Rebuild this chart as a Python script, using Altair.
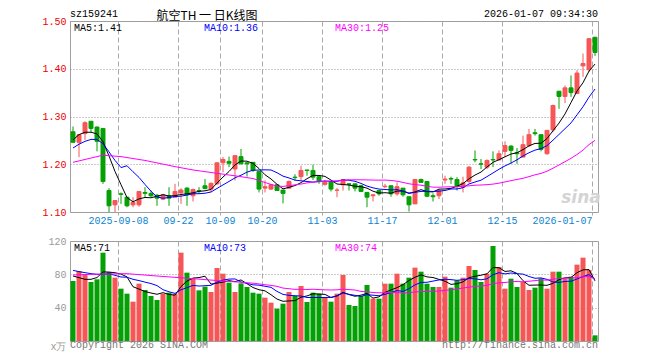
import altair as alt
import pandas as pd

# ---------------- data ----------------
date_idx = [8, 18, 25, 32, 42, 52, 62, 72, 87]
date_labels = ["2025-09-08", "09-22", "10-09", "10-20", "11-03", "11-17", "12-01", "12-15", "2026-01-07"]

opens = [1.268, 1.246, 1.264, 1.290, 1.278, 1.275, 1.145, 1.115, 1.138, 1.131,
         1.115, 1.115, 1.141, 1.139, 1.135, 1.127, 1.134, 1.131, 1.140, 1.150,
         1.134, 1.145, 1.155, 1.148, 1.159, 1.203, 1.206, 1.190, 1.216, 1.203,
         1.204, 1.185, 1.150, 1.148, 1.157, 1.146, 1.150, 1.173, 1.174, 1.188,
         1.187, 1.174, 1.158, 1.164, 1.1455, 1.157, 1.159, 1.159, 1.155, 1.141,
         1.134, 1.145, 1.153, 1.155, 1.138, 1.150, 1.132, 1.117, 1.168, 1.164,
         1.134, 1.134, 1.167, 1.170, 1.168, 1.152, 1.164, 1.210, 1.201, 1.194,
         1.210, 1.209, 1.227, 1.238, 1.224, 1.215, 1.239, 1.266, 1.262, 1.222,
         1.272, 1.353, 1.342, 1.360, 1.348, 1.406, 1.398, 1.466]
highs = [1.279, 1.263, 1.290, 1.290, 1.279, 1.275, 1.150, 1.124, 1.141, 1.132,
         1.131, 1.143, 1.152, 1.145, 1.138, 1.138, 1.152, 1.159, 1.150, 1.152,
         1.149, 1.152, 1.169, 1.162, 1.204, 1.215, 1.216, 1.218, 1.232, 1.204,
         1.204, 1.185, 1.166, 1.159, 1.157, 1.146, 1.166, 1.179, 1.197, 1.188,
         1.199, 1.174, 1.166, 1.164, 1.150, 1.168, 1.160, 1.159, 1.157, 1.141,
         1.138, 1.145, 1.159, 1.155, 1.162, 1.150, 1.132, 1.169, 1.170, 1.164,
         1.139, 1.148, 1.176, 1.174, 1.173, 1.174, 1.196, 1.229, 1.211, 1.210,
         1.227, 1.229, 1.248, 1.240, 1.234, 1.260, 1.274, 1.274, 1.262, 1.271,
         1.325, 1.353, 1.365, 1.386, 1.397, 1.432, 1.463, 1.466]
lows = [1.245, 1.215, 1.251, 1.267, 1.227, 1.159, 1.100, 1.100, 1.117, 1.110,
        1.110, 1.111, 1.131, 1.131, 1.113, 1.125, 1.113, 1.131, 1.117, 1.113,
        1.122, 1.138, 1.148, 1.141, 1.157, 1.183, 1.194, 1.166, 1.200, 1.174,
        1.184, 1.141, 1.141, 1.146, 1.144, 1.118, 1.149, 1.166, 1.166, 1.176,
        1.167, 1.159, 1.155, 1.143, 1.131, 1.145, 1.145, 1.143, 1.143, 1.110,
        1.122, 1.134, 1.150, 1.132, 1.134, 1.132, 1.101, 1.117, 1.162, 1.131,
        1.122, 1.127, 1.159, 1.159, 1.145, 1.141, 1.160, 1.204, 1.190, 1.190,
        1.194, 1.208, 1.215, 1.201, 1.201, 1.215, 1.236, 1.260, 1.227, 1.220,
        1.267, 1.316, 1.328, 1.341, 1.348, 1.383, 1.393, 1.427]
closes = [1.246, 1.262, 1.287, 1.275, 1.248, 1.164, 1.113, 1.124, 1.137, 1.113,
          1.120, 1.143, 1.139, 1.134, 1.129, 1.136, 1.129, 1.143, 1.146, 1.136,
          1.147, 1.144, 1.149, 1.160, 1.203, 1.210, 1.202, 1.218, 1.201, 1.201,
          1.187, 1.148, 1.153, 1.157, 1.145, 1.139, 1.164, 1.172, 1.187, 1.187,
          1.173, 1.164, 1.162, 1.148, 1.146, 1.168, 1.158, 1.150, 1.143, 1.131,
          1.136, 1.138, 1.154, 1.138, 1.153, 1.136, 1.115, 1.168, 1.162, 1.133,
          1.132, 1.145, 1.169, 1.169, 1.154, 1.161, 1.194, 1.209, 1.200, 1.208,
          1.209, 1.222, 1.239, 1.229, 1.222, 1.241, 1.262, 1.264, 1.231, 1.271,
          1.323, 1.342, 1.360, 1.350, 1.391, 1.411, 1.463, 1.434]
volumes = [72, 84, 80, 70.8, 74, 106, 82.8, 76, 62.8, 56.8,
           47.2, 68.8, 61.2, 54, 49.2, 56.8, 58, 56.8, 106, 82,
           74.8, 60.8, 65.2, 58.8, 87.6, 80.8, 70, 58.8, 69.2, 64.8,
           58, 56.8, 52, 46, 38.8, 44.8, 58.8, 54, 66, 46.8,
           58, 56.8, 52, 47.2, 56.8, 79.2, 43.2, 42, 54, 67.2,
           50.8, 50.8, 68.8, 68.8, 80.8, 68.8, 76, 88, 83.2, 68.8,
           64.8, 64.8, 77.2, 64, 72.8, 76, 90, 85.2, 70.8, 80.8,
           114, 88.8, 62.8, 74.8, 64.8, 70.8, 61.2, 64, 75.2, 62.8,
           83.2, 83.2, 74.8, 77.2, 91.6, 100, 85.2, 6.8]

ma5_head_idx, ma5_head = [0, 1, 2, 3], [1.251, 1.262, 1.267, 1.267]
ma10_head_idx, ma10_head = list(range(9)), [1.234, 1.242, 1.248, 1.252, 1.252, 1.243, 1.226, 1.208, 1.193]
ma30_head_idx, ma30_head = [0, 5, 8, 12, 17, 20, 24, 28], [1.204, 1.219, 1.216, 1.208, 1.195, 1.188, 1.181, 1.174]
vma5_head_idx, vma5_head = [0, 1, 2, 3], [78, 76, 74, 74]
vma10_head_idx, vma10_head = list(range(9)), [84.8, 83.2, 82, 80.8, 80, 80, 80.8, 78.8, 76.8]
vma30_head_idx, vma30_head = [0, 3, 9, 14, 20, 25, 28], [79.2, 80, 80.8, 78, 74.8, 72, 70.5]

price_legend = ["MA5:1.41", "MA10:1.36", "MA30:1.25"]
vol_legend = ["MA5:71", "MA10:73", "MA30:74"]
header_code = "sz159241"
header_title = "航空TH 一 日K线图"
header_time = "2026-01-07 09:34:30"
footer_left = "Copyright 2026 SINA.COM"
footer_right = "http://finance.sina.com.cn"

# ---------------- styling ----------------
RED = "#f65656"
GREEN = "#05a005"
BLUE_LBL = "#0d84d0"
MONO = "Liberation Mono"
CJK = "Noto Sans CJK SC"
MA_COLORS = ["#000000", "#0000ff", "#ff00ff"]
W, H_TOP, H_VOL = 528, 191, 100

n = len(closes)
df = pd.DataFrame({"i": range(n), "open": opens, "high": highs, "low": lows,
                   "close": closes, "vol": volumes})
df["x"] = df["i"] + 0.5
df["bl"] = df["i"] + 0.17
df["br"] = df["i"] + 0.83
df["vl"] = df["i"] + 0.08
df["vr"] = df["i"] + 0.92
df["zero"] = 0.0
df["up"] = df["close"] >= df["open"]


def ma_frame(values, window, head_idx, head_vals):
    s = pd.Series(values).rolling(window).mean()
    xs = [h + 0.5 for h in head_idx] + [k + 0.5 for k in range(window - 1, len(values))]
    vs = list(head_vals) + [s[k] for k in range(window - 1, len(values))]
    return pd.DataFrame({"x": xs, "v": vs})


price_mas = [ma_frame(closes, 5, ma5_head_idx, ma5_head),
             ma_frame(closes, 10, ma10_head_idx, ma10_head),
             ma_frame(closes, 30, ma30_head_idx, ma30_head)]
vol_mas = [ma_frame(volumes, 5, vma5_head_idx, vma5_head),
           ma_frame(volumes, 10, vma10_head_idx, vma10_head),
           ma_frame(volumes, 30, vma30_head_idx, vma30_head)]

xscale = alt.Scale(domain=[0, n], nice=False, zero=False)
label_expr = " : ".join(f"datum.value == {k} ? '{d}'" for k, d in zip(date_idx, date_labels)) + " : ''"
x_axis_top = alt.Axis(values=date_idx, labelExpr=label_expr, title=None, grid=True,
                      gridDash=[5, 3], gridColor="#aaaaaa", domain=False, ticks=True,
                      tickSize=3, tickColor="#aaaaaa", labelColor=BLUE_LBL, labelFont=MONO,
                      labelFontSize=10, labelPadding=0, labelFlush=10, labelOverlap=False)
x_axis_vol = alt.Axis(values=date_idx, title=None, grid=True, gridDash=[5, 3],
                      gridColor="#aaaaaa", domain=False, ticks=False, labels=False)

y_axis_top = alt.Axis(values=[1.1, 1.2, 1.3, 1.4, 1.5], format=".2f", title=None, grid=True,
                      gridDash=[1, 2], gridColor="#999999", ticks=False, domain=False,
                      labelColor="#ee0000", labelFont=MONO, labelFontSize=10, labelPadding=4)
y_axis_vol = alt.Axis(values=[0, 40, 80, 120], title=None, grid=True, gridDash=[1, 2],
                      gridColor="#999999", ticks=False, domain=False, labelColor="#999999",
                      labelFont=MONO, labelFontSize=10, labelPadding=4,
                      labelExpr="datum.value == 0 ? 'x万' : datum.label",
                      labelBaseline={"condition": {"test": "datum.value == 0", "value": "top"},
                                     "value": "middle"})
yscale_top = alt.Scale(domain=[1.1, 1.5], nice=False, zero=False)
yscale_vol = alt.Scale(domain=[0, 120], nice=False, zero=False)


def xt(f):
    return alt.X(f"{f}:Q", scale=xscale, axis=x_axis_top)


def yt(f):
    return alt.Y(f"{f}:Q", scale=yscale_top, axis=y_axis_top)


def xv(f):
    return alt.X(f"{f}:Q", scale=xscale, axis=x_axis_vol)


def yv(f):
    return alt.Y(f"{f}:Q", scale=yscale_vol, axis=y_axis_vol)


def text_layer(txt, x, y, color="#000000", align="left", font=MONO, size=10,
               baseline="middle", **kw):
    return alt.Chart(pd.DataFrame({"t": [txt]})).mark_text(
        align=align, baseline=baseline, font=font, fontSize=size, color=color, **kw
    ).encode(x=alt.value(x), y=alt.value(y), text="t:N")


top_layers = []
for is_up, col in [(True, RED), (False, GREEN)]:
    sub = df[df["up"] == is_up]
    top_layers.append(alt.Chart(sub).mark_rule(color=col, strokeWidth=1).encode(
        x=xt("x"), y=yt("low"), y2="high"))
    top_layers.append(alt.Chart(sub).mark_bar(color=col, stroke=col, strokeWidth=1).encode(
        x=xt("bl"), x2="br", y=yt("open"), y2="close"))
for frame, col in zip(price_mas, MA_COLORS):
    top_layers.append(alt.Chart(frame).mark_line(color=col, strokeWidth=1).encode(
        x=xt("x"), y=yt("v")))
top_layers += [
    text_layer("sina", 511, 177, color="#d4d4d4", font="DejaVu Sans", size=17,
               fontStyle="italic", fontWeight="bold", align="center"),
    text_layer(header_code, 0, -12.5, baseline="top"),
    text_layer(header_title, 137, -10.5, font=CJK, size=12, align="center", baseline="top"),
    text_layer(header_time, W, -12.5, align="right", baseline="top"),
    text_layer(price_legend[0], 4, 6.5, color=MA_COLORS[0]),
    text_layer(price_legend[1], 134, 6.5, color=MA_COLORS[1]),
    text_layer(price_legend[2], 265, 6.5, color=MA_COLORS[2]),
]
top = alt.layer(*top_layers).properties(width=W, height=H_TOP)

vol_layers = []
for is_up, col in [(True, RED), (False, GREEN)]:
    sub = df[df["up"] == is_up]
    vol_layers.append(alt.Chart(sub).mark_bar(color=col).encode(
        x=xv("vl"), x2="vr", y=yv("vol"), y2="zero"))
for frame, col in zip(vol_mas, MA_COLORS):
    vol_layers.append(alt.Chart(frame).mark_line(color=col, strokeWidth=1).encode(
        x=xv("x"), y=yv("v")))
vol_layers += [
    text_layer(vol_legend[0], 4, 6.5, color=MA_COLORS[0]),
    text_layer(vol_legend[1], 134, 6.5, color=MA_COLORS[1]),
    text_layer(vol_legend[2], 265, 6.5, color=MA_COLORS[2]),
    text_layer(footer_left, 0, 103.5, color="#777777"),
    text_layer(footer_right, W, 103.5, color="#777777", align="right"),
]
vol = alt.layer(*vol_layers).properties(width=W, height=H_VOL)

chart = alt.vconcat(top, vol, spacing=29, bounds="flush").resolve_scale(
    x="independent", y="independent"
).properties(
    padding={"left": 33, "top": 0, "right": 4, "bottom": 2},
    background="white",
).configure_view(stroke="#a0a0a0", strokeWidth=1)

chart.save("out.html", embed_options={"renderer": "svg", "actions": False})
